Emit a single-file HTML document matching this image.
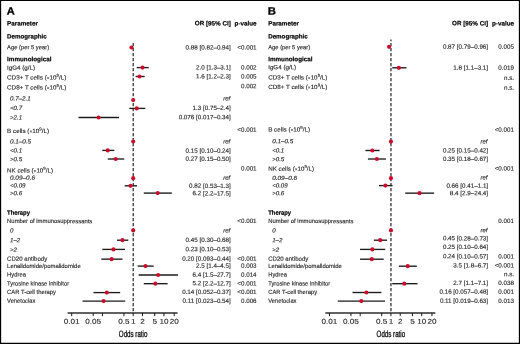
<!DOCTYPE html>
<html lang="en"><head><meta charset="utf-8"><title>Forest plot</title>
<style>html,body{margin:0;padding:0;background:#fff}body{width:520px;height:344px;overflow:hidden}svg{display:block}text{text-rendering:geometricPrecision}</style></head>
<body>
<svg width="520" height="344" viewBox="0 0 520 344" font-family='"Liberation Sans", Arial, Helvetica, sans-serif' font-size="6.25" fill="#1c1c1c" stroke="#1c1c1c" stroke-width="0.12" stroke-linejoin="round">
<defs><filter id="soft" filterUnits="userSpaceOnUse" x="0" y="0" width="520" height="344"><feGaussianBlur stdDeviation="0.3"/></filter></defs>
<rect x="0" y="0" width="520" height="344" fill="#fff" stroke="none"/>
<g filter="url(#soft)">
<text x="6.8" y="14.6" transform="rotate(0.03 6.8 14.6)" textLength="8.0" lengthAdjust="spacingAndGlyphs" font-size="10.5" font-weight="bold" fill="#000" stroke="#000" stroke-width="0.3">A</text>
<text x="267.8" y="14.6" transform="rotate(0.03 267.8 14.6)" textLength="8.2" lengthAdjust="spacingAndGlyphs" font-size="10.5" font-weight="bold" fill="#000" stroke="#000" stroke-width="0.3">B</text>
<text x="7.1" y="25.4" transform="rotate(0.03 7.1 25.4)" font-weight="bold" fill="#000" stroke="#000" stroke-width="0.2" font-size="6.3" textLength="30.8" lengthAdjust="spacingAndGlyphs">Parameter</text>
<text x="7.1" y="38.5" transform="rotate(0.03 7.1 38.5)" font-weight="bold" fill="#000" stroke="#000" stroke-width="0.2" font-size="6.3" textLength="39.6" lengthAdjust="spacingAndGlyphs">Demographic</text>
<text x="7.1" y="49.25" transform="rotate(0.03 7.1 49.25)" font-size="6.0" textLength="42.0" lengthAdjust="spacingAndGlyphs">Age (per 5 year)</text>
<text x="7.1" y="61.3" transform="rotate(0.03 7.1 61.3)" font-weight="bold" fill="#000" stroke="#000" stroke-width="0.2" font-size="6.3" textLength="44.3" lengthAdjust="spacingAndGlyphs">Immunological</text>
<text x="7.1" y="69.7" transform="rotate(0.03 7.1 69.7)" font-size="6.0" textLength="28.0" lengthAdjust="spacingAndGlyphs">IgG4 (g/L)</text>
<text x="7.1" y="79.5" transform="rotate(0.03 7.1 79.5)" font-size="6.0" textLength="59.2" lengthAdjust="spacingAndGlyphs">CD3+ T cells (<tspan font-size="4.6">×</tspan>10<tspan dy="-2.7" font-size="4.2">9</tspan><tspan dy="2.7">/L)</tspan></text>
<text x="7.1" y="89.6" transform="rotate(0.03 7.1 89.6)" font-size="6.0" textLength="59.2" lengthAdjust="spacingAndGlyphs">CD8+ T cells (<tspan font-size="4.6">×</tspan>10<tspan dy="-2.7" font-size="4.2">9</tspan><tspan dy="2.7">/L)</tspan></text>
<text x="10.0" y="100.5" transform="rotate(0.03 10.0 100.5)" font-style="italic" font-size="6.1" textLength="20.6" lengthAdjust="spacingAndGlyphs">0.7–2.1</text>
<text x="10.0" y="110.1" transform="rotate(0.03 10.0 110.1)" font-style="italic" font-size="6.1">&lt;0.7</text>
<text x="10.0" y="119.4" transform="rotate(0.03 10.0 119.4)" font-style="italic" font-size="6.1">&gt;2.1</text>
<text x="7.1" y="133.1" transform="rotate(0.03 7.1 133.1)" font-size="6.0" textLength="41.9" lengthAdjust="spacingAndGlyphs">B cells (<tspan font-size="4.6">×</tspan>10<tspan dy="-2.7" font-size="4.2">9</tspan><tspan dy="2.7">/L)</tspan></text>
<text x="10.0" y="143.6" transform="rotate(0.03 10.0 143.6)" font-style="italic" font-size="6.1" textLength="21.1" lengthAdjust="spacingAndGlyphs">0.1–0.5</text>
<text x="10.0" y="152.6" transform="rotate(0.03 10.0 152.6)" font-style="italic" font-size="6.1">&lt;0.1</text>
<text x="10.0" y="161.3" transform="rotate(0.03 10.0 161.3)" font-style="italic" font-size="6.1">&gt;0.5</text>
<text x="7.1" y="172.4" transform="rotate(0.03 7.1 172.4)" font-size="6.0" textLength="45.9" lengthAdjust="spacingAndGlyphs">NK cells (<tspan font-size="4.6">×</tspan>10<tspan dy="-2.7" font-size="4.2">9</tspan><tspan dy="2.7">/L)</tspan></text>
<text x="10.0" y="179.7" transform="rotate(0.03 10.0 179.7)" font-style="italic" font-size="6.1" textLength="25.0" lengthAdjust="spacingAndGlyphs">0.09–0.6</text>
<text x="10.0" y="187.6" transform="rotate(0.03 10.0 187.6)" font-style="italic" font-size="6.1">&lt;0.09</text>
<text x="10.0" y="195.3" transform="rotate(0.03 10.0 195.3)" font-style="italic" font-size="6.1">&gt;0.6</text>
<text x="7.1" y="214.7" transform="rotate(0.03 7.1 214.7)" font-weight="bold" fill="#000" stroke="#000" stroke-width="0.2" font-size="6.3" textLength="22.9" lengthAdjust="spacingAndGlyphs">Therapy</text>
<text x="7.1" y="223.1" transform="rotate(0.03 7.1 223.1)" font-size="6.0" textLength="85.2" lengthAdjust="spacingAndGlyphs">Number of immunosuppressants</text>
<text x="10.0" y="232.6" transform="rotate(0.03 10.0 232.6)" font-style="italic" font-size="6.1">0</text>
<text x="10.0" y="242.2" transform="rotate(0.03 10.0 242.2)" font-style="italic" font-size="6.1">1–2</text>
<text x="10.0" y="251.8" transform="rotate(0.03 10.0 251.8)" font-style="italic" font-size="6.1">&gt;2</text>
<text x="7.1" y="260.7" transform="rotate(0.03 7.1 260.7)" font-size="6.0" textLength="40.1" lengthAdjust="spacingAndGlyphs">CD20 antibody</text>
<text x="7.1" y="268.0" transform="rotate(0.03 7.1 268.0)" font-size="6.0" textLength="73.6" lengthAdjust="spacingAndGlyphs">Lenalidomide/pomalidomide</text>
<text x="7.1" y="276.4" transform="rotate(0.03 7.1 276.4)" font-size="6.0" textLength="18.8" lengthAdjust="spacingAndGlyphs">Hydrea</text>
<text x="7.1" y="285.4" transform="rotate(0.03 7.1 285.4)" font-size="6.0" textLength="62.0" lengthAdjust="spacingAndGlyphs">Tyrosine kinase inhibitor</text>
<text x="7.1" y="294.1" transform="rotate(0.03 7.1 294.1)" font-size="6.0" textLength="48.9" lengthAdjust="spacingAndGlyphs">CAR T-cell therapy</text>
<text x="7.1" y="302.8" transform="rotate(0.03 7.1 302.8)" font-size="6.0" textLength="28.3" lengthAdjust="spacingAndGlyphs">Venetoclax</text>
<text x="268.2" y="25.4" transform="rotate(0.03 268.2 25.4)" font-weight="bold" fill="#000" stroke="#000" stroke-width="0.2" font-size="6.3" textLength="30.8" lengthAdjust="spacingAndGlyphs">Parameter</text>
<text x="268.2" y="38.5" transform="rotate(0.03 268.2 38.5)" font-weight="bold" fill="#000" stroke="#000" stroke-width="0.2" font-size="6.3" textLength="39.6" lengthAdjust="spacingAndGlyphs">Demographic</text>
<text x="268.2" y="49.2" transform="rotate(0.03 268.2 49.2)" font-size="6.0" textLength="42.0" lengthAdjust="spacingAndGlyphs">Age (per 5 year)</text>
<text x="268.2" y="61.3" transform="rotate(0.03 268.2 61.3)" font-weight="bold" fill="#000" stroke="#000" stroke-width="0.2" font-size="6.3" textLength="44.3" lengthAdjust="spacingAndGlyphs">Immunological</text>
<text x="268.2" y="69.3" transform="rotate(0.03 268.2 69.3)" font-size="6.0" textLength="28.0" lengthAdjust="spacingAndGlyphs">IgG4 (g/L)</text>
<text x="268.2" y="79.4" transform="rotate(0.03 268.2 79.4)" font-size="6.0" textLength="59.2" lengthAdjust="spacingAndGlyphs">CD3+ T cells (<tspan font-size="4.6">×</tspan>10<tspan dy="-2.7" font-size="4.2">9</tspan><tspan dy="2.7">/L)</tspan></text>
<text x="268.2" y="89.1" transform="rotate(0.03 268.2 89.1)" font-size="6.0" textLength="59.2" lengthAdjust="spacingAndGlyphs">CD8+ T cells (<tspan font-size="4.6">×</tspan>10<tspan dy="-2.7" font-size="4.2">9</tspan><tspan dy="2.7">/L)</tspan></text>
<text x="268.2" y="131.6" transform="rotate(0.03 268.2 131.6)" font-size="6.0" textLength="41.9" lengthAdjust="spacingAndGlyphs">B cells (<tspan font-size="4.6">×</tspan>10<tspan dy="-2.7" font-size="4.2">9</tspan><tspan dy="2.7">/L)</tspan></text>
<text x="272.2" y="143.3" transform="rotate(0.03 272.2 143.3)" font-style="italic" font-size="6.1" textLength="21.1" lengthAdjust="spacingAndGlyphs">0.1–0.5</text>
<text x="272.2" y="152.6" transform="rotate(0.03 272.2 152.6)" font-style="italic" font-size="6.1">&lt;0.1</text>
<text x="272.2" y="161.3" transform="rotate(0.03 272.2 161.3)" font-style="italic" font-size="6.1">&gt;0.5</text>
<text x="268.2" y="170.7" transform="rotate(0.03 268.2 170.7)" font-size="6.0" textLength="45.9" lengthAdjust="spacingAndGlyphs">NK cells (<tspan font-size="4.6">×</tspan>10<tspan dy="-2.7" font-size="4.2">9</tspan><tspan dy="2.7">/L)</tspan></text>
<text x="272.2" y="179.9" transform="rotate(0.03 272.2 179.9)" font-style="italic" font-size="6.1" textLength="25.0" lengthAdjust="spacingAndGlyphs">0.09–0.6</text>
<text x="272.2" y="187.6" transform="rotate(0.03 272.2 187.6)" font-style="italic" font-size="6.1">&lt;0.09</text>
<text x="272.2" y="195.3" transform="rotate(0.03 272.2 195.3)" font-style="italic" font-size="6.1">&gt;0.6</text>
<text x="268.2" y="214.7" transform="rotate(0.03 268.2 214.7)" font-weight="bold" fill="#000" stroke="#000" stroke-width="0.2" font-size="6.3" textLength="22.9" lengthAdjust="spacingAndGlyphs">Therapy</text>
<text x="268.2" y="223.1" transform="rotate(0.03 268.2 223.1)" font-size="6.0" textLength="85.2" lengthAdjust="spacingAndGlyphs">Number of immunosuppressants</text>
<text x="272.2" y="232.6" transform="rotate(0.03 272.2 232.6)" font-style="italic" font-size="6.1">0</text>
<text x="272.2" y="242.2" transform="rotate(0.03 272.2 242.2)" font-style="italic" font-size="6.1">1–2</text>
<text x="272.2" y="251.8" transform="rotate(0.03 272.2 251.8)" font-style="italic" font-size="6.1">&gt;2</text>
<text x="268.2" y="260.7" transform="rotate(0.03 268.2 260.7)" font-size="6.0" textLength="40.1" lengthAdjust="spacingAndGlyphs">CD20 antibody</text>
<text x="268.2" y="268.0" transform="rotate(0.03 268.2 268.0)" font-size="6.0" textLength="73.6" lengthAdjust="spacingAndGlyphs">Lenalidomide/pomalidomide</text>
<text x="268.2" y="276.4" transform="rotate(0.03 268.2 276.4)" font-size="6.0" textLength="18.8" lengthAdjust="spacingAndGlyphs">Hydrea</text>
<text x="268.2" y="285.4" transform="rotate(0.03 268.2 285.4)" font-size="6.0" textLength="62.0" lengthAdjust="spacingAndGlyphs">Tyrosine kinase inhibitor</text>
<text x="268.2" y="294.1" transform="rotate(0.03 268.2 294.1)" font-size="6.0" textLength="48.9" lengthAdjust="spacingAndGlyphs">CAR T-cell therapy</text>
<text x="268.2" y="302.8" transform="rotate(0.03 268.2 302.8)" font-size="6.0" textLength="28.3" lengthAdjust="spacingAndGlyphs">Venetoclax</text>
<text x="230.80" y="25.4" transform="rotate(0.03 230.80 25.4)" text-anchor="end" font-weight="bold" fill="#000" stroke="#000" stroke-width="0.2" font-size="6.3">OR [95% CI]</text>
<text x="256.6" y="25.4" transform="rotate(0.03 256.6 25.4)" text-anchor="end" font-weight="bold" fill="#000" stroke="#000" stroke-width="0.2" font-size="6.3">p-value</text>
<text x="230.80" y="49.5" transform="rotate(0.03 230.80 49.5)" text-anchor="end">0.88 [0.82–0.94]</text>
<text x="256.6" y="49.5" transform="rotate(0.03 256.6 49.5)" text-anchor="end">&lt;0.001</text>
<text x="230.80" y="69.6" transform="rotate(0.03 230.80 69.6)" text-anchor="end">2.0 [1.3–3.1]</text>
<text x="256.6" y="69.6" transform="rotate(0.03 256.6 69.6)" text-anchor="end">0.002</text>
<text x="230.80" y="78.4" transform="rotate(0.03 230.80 78.4)" text-anchor="end">1.6 [1.2–2.3]</text>
<text x="256.6" y="78.4" transform="rotate(0.03 256.6 78.4)" text-anchor="end">0.005</text>
<text x="256.6" y="88.3" transform="rotate(0.03 256.6 88.3)" text-anchor="end">0.002</text>
<text x="230.20" y="100.5" transform="rotate(0.03 230.20 100.5)" text-anchor="end" font-style="italic" font-size="6.0">ref</text>
<text x="230.80" y="110.0" transform="rotate(0.03 230.80 110.0)" text-anchor="end">1.3 [0.75–2.4]</text>
<text x="230.80" y="119.3" transform="rotate(0.03 230.80 119.3)" text-anchor="end">0.076 [0.017–0.34]</text>
<text x="256.6" y="131.8" transform="rotate(0.03 256.6 131.8)" text-anchor="end">&lt;0.001</text>
<text x="230.20" y="143.6" transform="rotate(0.03 230.20 143.6)" text-anchor="end" font-style="italic" font-size="6.0">ref</text>
<text x="230.80" y="152.7" transform="rotate(0.03 230.80 152.7)" text-anchor="end">0.15 [0.10–0.24]</text>
<text x="230.80" y="160.9" transform="rotate(0.03 230.80 160.9)" text-anchor="end">0.27 [0.15–0.50]</text>
<text x="256.6" y="170.5" transform="rotate(0.03 256.6 170.5)" text-anchor="end">0.001</text>
<text x="230.20" y="179.7" transform="rotate(0.03 230.20 179.7)" text-anchor="end" font-style="italic" font-size="6.0">ref</text>
<text x="230.80" y="187.9" transform="rotate(0.03 230.80 187.9)" text-anchor="end">0.82 [0.53–1.3]</text>
<text x="230.80" y="195.4" transform="rotate(0.03 230.80 195.4)" text-anchor="end">6.2 [2.2–17.5]</text>
<text x="256.6" y="223.1" transform="rotate(0.03 256.6 223.1)" text-anchor="end">&lt;0.001</text>
<text x="230.20" y="232.4" transform="rotate(0.03 230.20 232.4)" text-anchor="end" font-style="italic" font-size="6.0">ref</text>
<text x="230.80" y="242.1" transform="rotate(0.03 230.80 242.1)" text-anchor="end">0.45 [0.30–0.68]</text>
<text x="230.80" y="251.2" transform="rotate(0.03 230.80 251.2)" text-anchor="end">0.23 [0.10–0.53]</text>
<text x="230.80" y="260.8" transform="rotate(0.03 230.80 260.8)" text-anchor="end">0.20 [0.093–0.44]</text>
<text x="256.6" y="260.8" transform="rotate(0.03 256.6 260.8)" text-anchor="end">&lt;0.001</text>
<text x="230.80" y="267.8" transform="rotate(0.03 230.80 267.8)" text-anchor="end">2.5 [1.4–4.5]</text>
<text x="256.6" y="267.8" transform="rotate(0.03 256.6 267.8)" text-anchor="end">0.003</text>
<text x="230.80" y="276.7" transform="rotate(0.03 230.80 276.7)" text-anchor="end">6.4 [1.5–27.7]</text>
<text x="256.6" y="276.7" transform="rotate(0.03 256.6 276.7)" text-anchor="end">0.014</text>
<text x="230.80" y="285.4" transform="rotate(0.03 230.80 285.4)" text-anchor="end">5.2 [2.2–12.7]</text>
<text x="256.6" y="285.4" transform="rotate(0.03 256.6 285.4)" text-anchor="end">&lt;0.001</text>
<text x="230.80" y="294.1" transform="rotate(0.03 230.80 294.1)" text-anchor="end">0.14 [0.052–0.37]</text>
<text x="256.6" y="294.1" transform="rotate(0.03 256.6 294.1)" text-anchor="end">&lt;0.001</text>
<text x="230.80" y="302.9" transform="rotate(0.03 230.80 302.9)" text-anchor="end">0.11 [0.023–0.54]</text>
<text x="256.6" y="302.9" transform="rotate(0.03 256.6 302.9)" text-anchor="end">0.006</text>
<text x="488.10" y="25.4" transform="rotate(0.03 488.10 25.4)" text-anchor="end" font-weight="bold" fill="#000" stroke="#000" stroke-width="0.2" font-size="6.3">OR [95% CI]</text>
<text x="514.0" y="25.4" transform="rotate(0.03 514.0 25.4)" text-anchor="end" font-weight="bold" fill="#000" stroke="#000" stroke-width="0.2" font-size="6.3">p-value</text>
<text x="488.10" y="48.8" transform="rotate(0.03 488.10 48.8)" text-anchor="end">0.87 [0.79–0.96]</text>
<text x="514.0" y="48.8" transform="rotate(0.03 514.0 48.8)" text-anchor="end">0.005</text>
<text x="488.10" y="69.8" transform="rotate(0.03 488.10 69.8)" text-anchor="end">1.8 [1.1–3.1]</text>
<text x="514.0" y="69.8" transform="rotate(0.03 514.0 69.8)" text-anchor="end">0.019</text>
<text x="514.0" y="79.9" transform="rotate(0.03 514.0 79.9)" text-anchor="end">n.s.</text>
<text x="514.0" y="89.8" transform="rotate(0.03 514.0 89.8)" text-anchor="end">n.s.</text>
<text x="514.0" y="131.7" transform="rotate(0.03 514.0 131.7)" text-anchor="end">&lt;0.001</text>
<text x="487.50" y="143.6" transform="rotate(0.03 487.50 143.6)" text-anchor="end" font-style="italic" font-size="6.0">ref</text>
<text x="488.10" y="152.6" transform="rotate(0.03 488.10 152.6)" text-anchor="end">0.25 [0.15–0.42]</text>
<text x="488.10" y="161.0" transform="rotate(0.03 488.10 161.0)" text-anchor="end">0.35 [0.18–0.67]</text>
<text x="514.0" y="170.6" transform="rotate(0.03 514.0 170.6)" text-anchor="end">&lt;0.001</text>
<text x="487.50" y="179.5" transform="rotate(0.03 487.50 179.5)" text-anchor="end" font-style="italic" font-size="6.0">ref</text>
<text x="488.10" y="187.8" transform="rotate(0.03 488.10 187.8)" text-anchor="end">0.66 [0.41–1.1]</text>
<text x="488.10" y="195.3" transform="rotate(0.03 488.10 195.3)" text-anchor="end">8.4 [2.9–24.4]</text>
<text x="514.0" y="222.9" transform="rotate(0.03 514.0 222.9)" text-anchor="end">0.001</text>
<text x="487.50" y="232.2" transform="rotate(0.03 487.50 232.2)" text-anchor="end" font-style="italic" font-size="6.0">ref</text>
<text x="488.10" y="240.4" transform="rotate(0.03 488.10 240.4)" text-anchor="end">0.45 [0.28–0.73]</text>
<text x="488.10" y="249.1" transform="rotate(0.03 488.10 249.1)" text-anchor="end">0.25 [0.10–0.64]</text>
<text x="488.10" y="258.4" transform="rotate(0.03 488.10 258.4)" text-anchor="end">0.24 [0.10–0.57]</text>
<text x="514.0" y="258.4" transform="rotate(0.03 514.0 258.4)" text-anchor="end">0.001</text>
<text x="488.10" y="267.5" transform="rotate(0.03 488.10 267.5)" text-anchor="end">3.5 [1.8–6.7]</text>
<text x="514.0" y="267.5" transform="rotate(0.03 514.0 267.5)" text-anchor="end">&lt;0.001</text>
<text x="514.0" y="276.3" transform="rotate(0.03 514.0 276.3)" text-anchor="end">n.s.</text>
<text x="488.10" y="285.1" transform="rotate(0.03 488.10 285.1)" text-anchor="end">2.7 [1.1–7.1]</text>
<text x="514.0" y="285.1" transform="rotate(0.03 514.0 285.1)" text-anchor="end">0.038</text>
<text x="488.10" y="293.8" transform="rotate(0.03 488.10 293.8)" text-anchor="end">0.16 [0.057–0.48]</text>
<text x="514.0" y="293.8" transform="rotate(0.03 514.0 293.8)" text-anchor="end">0.001</text>
<text x="488.10" y="302.9" transform="rotate(0.03 488.10 302.9)" text-anchor="end">0.11 [0.019–0.63]</text>
<text x="514.0" y="302.9" transform="rotate(0.03 514.0 302.9)" text-anchor="end">0.013</text>
<line x1="133.2" y1="43.0" x2="133.2" y2="312.95" stroke="#1a1a1a" stroke-width="1.15" stroke-dasharray="3.2 1.8" stroke-dashoffset="0"/>
<line x1="130.54" y1="47.5" x2="132.67" y2="47.5" stroke="#1a1a1a" stroke-width="1.35"/>
<line x1="136.72" y1="67.6" x2="148.68" y2="67.6" stroke="#1a1a1a" stroke-width="1.35"/>
<line x1="135.65" y1="76.5" x2="144.68" y2="76.5" stroke="#1a1a1a" stroke-width="1.35"/>
<line x1="129.34" y1="108.4" x2="145.25" y2="108.4" stroke="#1a1a1a" stroke-width="1.35"/>
<line x1="78.52" y1="117.5" x2="119.02" y2="117.5" stroke="#1a1a1a" stroke-width="1.35"/>
<line x1="102.30" y1="150.4" x2="114.35" y2="150.4" stroke="#1a1a1a" stroke-width="1.35"/>
<line x1="107.74" y1="159.0" x2="124.20" y2="159.0" stroke="#1a1a1a" stroke-width="1.35"/>
<line x1="124.68" y1="185.8" x2="137.02" y2="185.8" stroke="#1a1a1a" stroke-width="1.35"/>
<line x1="143.78" y1="193.1" x2="171.91" y2="193.1" stroke="#1a1a1a" stroke-width="1.35"/>
<line x1="117.04" y1="240.2" x2="128.32" y2="240.2" stroke="#1a1a1a" stroke-width="1.35"/>
<line x1="102.30" y1="249.4" x2="124.98" y2="249.4" stroke="#1a1a1a" stroke-width="1.35"/>
<line x1="101.33" y1="259.15" x2="122.48" y2="259.15" stroke="#1a1a1a" stroke-width="1.35"/>
<line x1="137.72" y1="266.1" x2="153.68" y2="266.1" stroke="#1a1a1a" stroke-width="1.35"/>
<line x1="138.64" y1="275.0" x2="178.07" y2="275.0" stroke="#1a1a1a" stroke-width="1.35"/>
<line x1="143.78" y1="283.7" x2="167.61" y2="283.7" stroke="#1a1a1a" stroke-width="1.35"/>
<line x1="93.52" y1="292.6" x2="120.16" y2="292.6" stroke="#1a1a1a" stroke-width="1.35"/>
<line x1="82.58" y1="301.1" x2="125.23" y2="301.1" stroke="#1a1a1a" stroke-width="1.35"/>
<circle cx="131.48" cy="47.5" r="2.1" fill="#c8102e" stroke="none"/>
<circle cx="142.50" cy="67.6" r="2.1" fill="#c8102e" stroke="none"/>
<circle cx="139.51" cy="76.5" r="2.1" fill="#c8102e" stroke="none"/>
<circle cx="133.20" cy="100.05" r="2.1" fill="#c8102e" stroke="none"/>
<circle cx="136.72" cy="108.4" r="2.1" fill="#c8102e" stroke="none"/>
<circle cx="98.62" cy="117.5" r="2.1" fill="#c8102e" stroke="none"/>
<circle cx="133.20" cy="141.5" r="2.1" fill="#c8102e" stroke="none"/>
<circle cx="107.74" cy="150.4" r="2.1" fill="#c8102e" stroke="none"/>
<circle cx="115.63" cy="159.0" r="2.1" fill="#c8102e" stroke="none"/>
<circle cx="133.20" cy="178.2" r="2.1" fill="#c8102e" stroke="none"/>
<circle cx="130.54" cy="185.8" r="2.1" fill="#c8102e" stroke="none"/>
<circle cx="157.68" cy="193.1" r="2.1" fill="#c8102e" stroke="none"/>
<circle cx="133.20" cy="230.4" r="2.1" fill="#c8102e" stroke="none"/>
<circle cx="122.48" cy="240.2" r="2.1" fill="#c8102e" stroke="none"/>
<circle cx="113.48" cy="249.4" r="2.1" fill="#c8102e" stroke="none"/>
<circle cx="111.60" cy="259.15" r="2.1" fill="#c8102e" stroke="none"/>
<circle cx="145.50" cy="266.1" r="2.1" fill="#c8102e" stroke="none"/>
<circle cx="158.11" cy="275.0" r="2.1" fill="#c8102e" stroke="none"/>
<circle cx="155.32" cy="283.7" r="2.1" fill="#c8102e" stroke="none"/>
<circle cx="106.82" cy="292.6" r="2.1" fill="#c8102e" stroke="none"/>
<circle cx="103.58" cy="301.1" r="2.1" fill="#c8102e" stroke="none"/>
<line x1="67.60" y1="312.95" x2="177.60" y2="312.95" stroke="#2e2e2e" stroke-width="1.6"/>
<line x1="71.70" y1="312.95" x2="71.70" y2="316.15" stroke="#1a1a1a" stroke-width="1.0"/>
<line x1="93.19" y1="312.95" x2="93.19" y2="316.15" stroke="#1a1a1a" stroke-width="1.0"/>
<line x1="102.45" y1="312.95" x2="102.45" y2="316.15" stroke="#1a1a1a" stroke-width="1.0"/>
<line x1="123.94" y1="312.95" x2="123.94" y2="316.15" stroke="#1a1a1a" stroke-width="1.0"/>
<line x1="133.20" y1="312.95" x2="133.20" y2="316.15" stroke="#1a1a1a" stroke-width="1.0"/>
<line x1="142.46" y1="312.95" x2="142.46" y2="316.15" stroke="#1a1a1a" stroke-width="1.0"/>
<line x1="154.69" y1="312.95" x2="154.69" y2="316.15" stroke="#1a1a1a" stroke-width="1.0"/>
<line x1="163.95" y1="312.95" x2="163.95" y2="316.15" stroke="#1a1a1a" stroke-width="1.0"/>
<line x1="174.20" y1="312.95" x2="174.20" y2="316.15" stroke="#1a1a1a" stroke-width="1.0"/>
<text x="71.70" y="323.8" transform="rotate(0.03 71.70 323.8)" text-anchor="middle" font-size="7.0" fill="#222" stroke="#222" stroke-width="0.1" textLength="15.91" lengthAdjust="spacingAndGlyphs">0.01</text>
<text x="93.19" y="323.8" transform="rotate(0.03 93.19 323.8)" text-anchor="middle" font-size="7.0" fill="#222" stroke="#222" stroke-width="0.1" textLength="15.91" lengthAdjust="spacingAndGlyphs">0.05</text>
<text x="123.94" y="323.8" transform="rotate(0.03 123.94 323.8)" text-anchor="middle" font-size="7.0" fill="#222" stroke="#222" stroke-width="0.1" textLength="11.36" lengthAdjust="spacingAndGlyphs">0.5</text>
<text x="133.20" y="323.8" transform="rotate(0.03 133.20 323.8)" text-anchor="middle" font-size="7.0" fill="#222" stroke="#222" stroke-width="0.1" textLength="4.55" lengthAdjust="spacingAndGlyphs">1</text>
<text x="142.46" y="323.8" transform="rotate(0.03 142.46 323.8)" text-anchor="middle" font-size="7.0" fill="#222" stroke="#222" stroke-width="0.1" textLength="4.55" lengthAdjust="spacingAndGlyphs">2</text>
<text x="154.69" y="323.8" transform="rotate(0.03 154.69 323.8)" text-anchor="middle" font-size="7.0" fill="#222" stroke="#222" stroke-width="0.1" textLength="4.55" lengthAdjust="spacingAndGlyphs">5</text>
<text x="163.95" y="323.8" transform="rotate(0.03 163.95 323.8)" text-anchor="middle" font-size="7.0" fill="#222" stroke="#222" stroke-width="0.1" textLength="9.09" lengthAdjust="spacingAndGlyphs">10</text>
<text x="174.20" y="323.8" transform="rotate(0.03 174.20 323.8)" text-anchor="middle" font-size="7.0" fill="#222" stroke="#222" stroke-width="0.1" textLength="9.09" lengthAdjust="spacingAndGlyphs">20</text>
<text x="133.10" y="336.9" transform="rotate(0.03 133.10 336.9)" text-anchor="middle" font-size="9.1" fill="#111" stroke="#111" stroke-width="0.34" textLength="28.5" lengthAdjust="spacingAndGlyphs">Odds ratio</text>
<line x1="390.95" y1="39.5" x2="390.95" y2="312.95" stroke="#1a1a1a" stroke-width="1.15" stroke-dasharray="3.2 1.8" stroke-dashoffset="1.5"/>
<line x1="387.79" y1="46.8" x2="390.70" y2="46.8" stroke="#1a1a1a" stroke-width="1.35"/>
<line x1="392.23" y1="67.8" x2="406.43" y2="67.8" stroke="#1a1a1a" stroke-width="1.35"/>
<line x1="365.49" y1="150.5" x2="379.61" y2="150.5" stroke="#1a1a1a" stroke-width="1.35"/>
<line x1="367.94" y1="159.0" x2="385.88" y2="159.0" stroke="#1a1a1a" stroke-width="1.35"/>
<line x1="378.99" y1="185.6" x2="392.53" y2="185.6" stroke="#1a1a1a" stroke-width="1.35"/>
<line x1="405.24" y1="193.15" x2="434.12" y2="193.15" stroke="#1a1a1a" stroke-width="1.35"/>
<line x1="373.87" y1="240.2" x2="387.03" y2="240.2" stroke="#1a1a1a" stroke-width="1.35"/>
<line x1="360.05" y1="249.4" x2="385.26" y2="249.4" stroke="#1a1a1a" stroke-width="1.35"/>
<line x1="360.05" y1="259.2" x2="383.71" y2="259.2" stroke="#1a1a1a" stroke-width="1.35"/>
<line x1="398.84" y1="266.2" x2="416.78" y2="266.2" stroke="#1a1a1a" stroke-width="1.35"/>
<line x1="392.23" y1="283.7" x2="417.55" y2="283.7" stroke="#1a1a1a" stroke-width="1.35"/>
<line x1="352.51" y1="292.5" x2="381.40" y2="292.5" stroke="#1a1a1a" stroke-width="1.35"/>
<line x1="337.76" y1="301.1" x2="385.05" y2="301.1" stroke="#1a1a1a" stroke-width="1.35"/>
<circle cx="389.08" cy="46.8" r="2.1" fill="#c8102e" stroke="none"/>
<circle cx="398.84" cy="67.8" r="2.1" fill="#c8102e" stroke="none"/>
<circle cx="390.95" cy="141.6" r="2.1" fill="#c8102e" stroke="none"/>
<circle cx="372.35" cy="150.5" r="2.1" fill="#c8102e" stroke="none"/>
<circle cx="376.86" cy="159.0" r="2.1" fill="#c8102e" stroke="none"/>
<circle cx="390.95" cy="178.2" r="2.1" fill="#c8102e" stroke="none"/>
<circle cx="385.37" cy="185.6" r="2.1" fill="#c8102e" stroke="none"/>
<circle cx="419.51" cy="193.15" r="2.1" fill="#c8102e" stroke="none"/>
<circle cx="390.95" cy="230.4" r="2.1" fill="#c8102e" stroke="none"/>
<circle cx="380.23" cy="240.2" r="2.1" fill="#c8102e" stroke="none"/>
<circle cx="372.35" cy="249.4" r="2.1" fill="#c8102e" stroke="none"/>
<circle cx="371.80" cy="259.2" r="2.1" fill="#c8102e" stroke="none"/>
<circle cx="407.76" cy="266.2" r="2.1" fill="#c8102e" stroke="none"/>
<circle cx="404.28" cy="283.7" r="2.1" fill="#c8102e" stroke="none"/>
<circle cx="366.36" cy="292.5" r="2.1" fill="#c8102e" stroke="none"/>
<circle cx="361.33" cy="301.1" r="2.1" fill="#c8102e" stroke="none"/>
<line x1="325.35" y1="312.95" x2="435.35" y2="312.95" stroke="#2e2e2e" stroke-width="1.6"/>
<line x1="329.45" y1="312.95" x2="329.45" y2="316.15" stroke="#1a1a1a" stroke-width="1.0"/>
<line x1="350.94" y1="312.95" x2="350.94" y2="316.15" stroke="#1a1a1a" stroke-width="1.0"/>
<line x1="360.20" y1="312.95" x2="360.20" y2="316.15" stroke="#1a1a1a" stroke-width="1.0"/>
<line x1="381.69" y1="312.95" x2="381.69" y2="316.15" stroke="#1a1a1a" stroke-width="1.0"/>
<line x1="390.95" y1="312.95" x2="390.95" y2="316.15" stroke="#1a1a1a" stroke-width="1.0"/>
<line x1="400.21" y1="312.95" x2="400.21" y2="316.15" stroke="#1a1a1a" stroke-width="1.0"/>
<line x1="412.44" y1="312.95" x2="412.44" y2="316.15" stroke="#1a1a1a" stroke-width="1.0"/>
<line x1="421.70" y1="312.95" x2="421.70" y2="316.15" stroke="#1a1a1a" stroke-width="1.0"/>
<line x1="431.95" y1="312.95" x2="431.95" y2="316.15" stroke="#1a1a1a" stroke-width="1.0"/>
<text x="329.45" y="323.8" transform="rotate(0.03 329.45 323.8)" text-anchor="middle" font-size="7.0" fill="#222" stroke="#222" stroke-width="0.1" textLength="15.91" lengthAdjust="spacingAndGlyphs">0.01</text>
<text x="350.94" y="323.8" transform="rotate(0.03 350.94 323.8)" text-anchor="middle" font-size="7.0" fill="#222" stroke="#222" stroke-width="0.1" textLength="15.91" lengthAdjust="spacingAndGlyphs">0.05</text>
<text x="381.69" y="323.8" transform="rotate(0.03 381.69 323.8)" text-anchor="middle" font-size="7.0" fill="#222" stroke="#222" stroke-width="0.1" textLength="11.36" lengthAdjust="spacingAndGlyphs">0.5</text>
<text x="390.95" y="323.8" transform="rotate(0.03 390.95 323.8)" text-anchor="middle" font-size="7.0" fill="#222" stroke="#222" stroke-width="0.1" textLength="4.55" lengthAdjust="spacingAndGlyphs">1</text>
<text x="400.21" y="323.8" transform="rotate(0.03 400.21 323.8)" text-anchor="middle" font-size="7.0" fill="#222" stroke="#222" stroke-width="0.1" textLength="4.55" lengthAdjust="spacingAndGlyphs">2</text>
<text x="412.44" y="323.8" transform="rotate(0.03 412.44 323.8)" text-anchor="middle" font-size="7.0" fill="#222" stroke="#222" stroke-width="0.1" textLength="4.55" lengthAdjust="spacingAndGlyphs">5</text>
<text x="421.70" y="323.8" transform="rotate(0.03 421.70 323.8)" text-anchor="middle" font-size="7.0" fill="#222" stroke="#222" stroke-width="0.1" textLength="9.09" lengthAdjust="spacingAndGlyphs">10</text>
<text x="431.95" y="323.8" transform="rotate(0.03 431.95 323.8)" text-anchor="middle" font-size="7.0" fill="#222" stroke="#222" stroke-width="0.1" textLength="9.09" lengthAdjust="spacingAndGlyphs">20</text>
<text x="390.85" y="336.9" transform="rotate(0.03 390.85 336.9)" text-anchor="middle" font-size="9.1" fill="#111" stroke="#111" stroke-width="0.34" textLength="28.5" lengthAdjust="spacingAndGlyphs">Odds ratio</text>
</g>
<rect x="0" y="0" width="520" height="1" fill="#000" stroke="none"/>
<rect x="0" y="0" width="1.15" height="344" fill="#000" stroke="none"/>
<rect x="518.85" y="0" width="1.15" height="344" fill="#000" stroke="none"/>
<rect x="0" y="342.75" width="520" height="1.25" fill="#000" stroke="none"/>
</svg>
</body></html>
